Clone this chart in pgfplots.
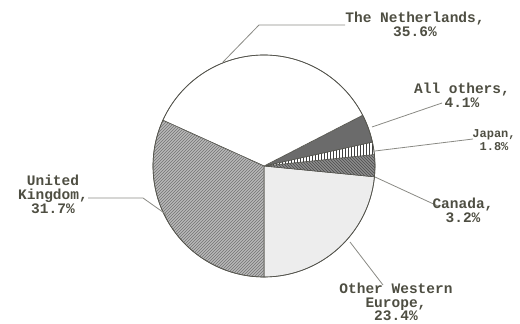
\documentclass[border=0pt]{standalone}
\usepackage{pgfplots}
\pgfplotsset{compat=1.18}
\usepackage{pgfplotstable}
\usetikzlibrary{patterns}
\usepackage{fontspec}
\setmainfont{Liberation Mono}
\definecolor{txt}{HTML}{4E4E42}
\definecolor{lead}{HTML}{8A8A84}
\definecolor{edge}{HTML}{55554E}
\tikzset{lab/.style={text=txt, align=center, inner sep=0pt,
     font=\fontsize{14.5}{14}\selectfont\bfseries}}

\pgfplotstableread{
label pct
OtherWesternEurope 23.4
Canada 3.2
Japan 1.8
AllOthers 4.1
TheNetherlands 35.6
UnitedKingdom 31.7
}\piedata

\newcommand{\computeslices}{%
  \def\tot{0}%
  \pgfplotsforeachungrouped \i in {0,1,2,3,4,5}{%
    \pgfplotstablegetelem{\i}{pct}\of\piedata
    \pgfmathsetmacro\tot{\tot+\pgfplotsretval}%
  }%
  \def\cum{-90}%
  \pgfplotsforeachungrouped \i in {0,1,2,3,4,5}{%
    \pgfplotstablegetelem{\i}{pct}\of\piedata
    \pgfmathsetmacro\nxt{\cum+360*\pgfplotsretval/\tot}%
    \expandafter\xdef\csname sA\i\endcsname{\cum}%
    \expandafter\xdef\csname sB\i\endcsname{\nxt}%
    \let\cum\nxt
  }%
}
\newcommand{\slice}[2]{%
  \fill[#2] (axis cs:264,158) -- ++(\csname sA#1\endcsname:111pt)
    arc[start angle=\csname sA#1\endcsname, end angle=\csname sB#1\endcsname, radius=111pt] -- cycle;
}

\begin{document}
\computeslices
\begin{tikzpicture}
\begin{axis}[x=1pt, y=1pt, xmin=0, xmax=520, ymin=0, ymax=324,
  hide axis, clip=false]
\addplot[draw=none] coordinates {(0,0) (520,324)};
% slices
\slice{0}{fill=black!7, draw=edge, line width=0.6pt}
\slice{1}{fill=black!45, draw=edge, line width=0.6pt, postaction={pattern=north west lines, pattern color=black!70}}
\slice{2}{fill=white, draw=edge, line width=0.6pt, postaction={pattern=vertical lines, pattern color=black!75}}
\slice{3}{fill=black!58, draw=edge, line width=0.6pt}
\slice{4}{fill=white, draw=edge, line width=0.6pt}
\slice{5}{fill=black!28, draw=edge, line width=0.6pt, postaction={pattern=north east lines, pattern color=black!55}}
\draw[edge, line width=0.7pt] (axis cs:264,158) circle[radius=111pt];
% leader lines
\draw[lead, line width=0.8pt] (axis cs:223,262) -- (axis cs:259,299) -- (axis cs:345,299);
\draw[lead, line width=0.8pt] (axis cs:372,197) -- (axis cs:442,221);
\draw[lead, line width=0.8pt] (axis cs:375,173) -- (axis cs:473,185);
\draw[lead, line width=0.8pt] (axis cs:375,147) -- (axis cs:440,117);
\draw[lead, line width=0.8pt] (axis cs:350,82) -- (axis cs:383,39);
\draw[lead, line width=0.8pt] (axis cs:167,109) -- (axis cs:143,126) -- (axis cs:88,126);
% labels
\node[lab] at (axis cs:415,300) {The Netherlands,\\35.6\%};
\node[lab] at (axis cs:462,229) {All others,\\4.1\%};
\node[lab, font=\fontsize{12}{13}\selectfont\bfseries] at (axis cs:494,184) {Japan,\\1.8\%};
\node[lab] at (axis cs:463,114) {Canada,\\3.2\%};
\node[lab, font=\fontsize{14.5}{13.5}\selectfont\bfseries] at (axis cs:396,22) {Other Western\\Europe,\\23.4\%};
\node[lab] at (axis cs:53,130) {United\\Kingdom,\\31.7\%};
\end{axis}
\end{tikzpicture}
\end{document}
